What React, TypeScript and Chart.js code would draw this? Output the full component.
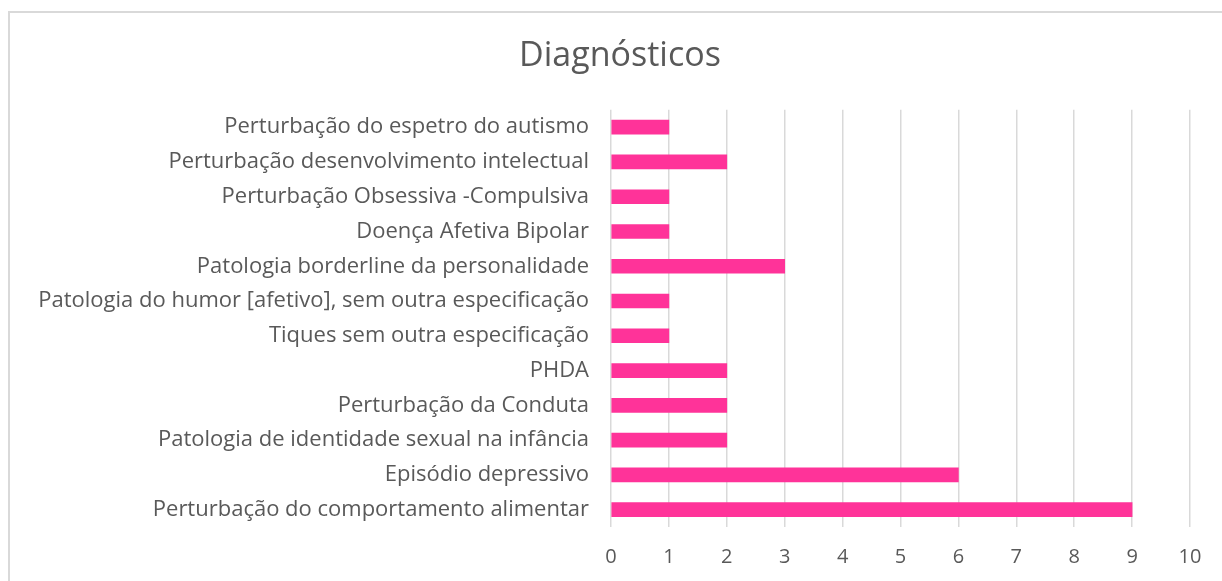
import React, { useEffect, useRef } from "react";
import { Chart, registerables } from "chart.js";

Chart.register(...registerables);

const categories = [
  "Perturbação do espetro do autismo",
  "Perturbação desenvolvimento intelectual",
  "Perturbação Obsessiva -Compulsiva",
  "Doença Afetiva Bipolar",
  "Patologia borderline da personalidade",
  "Patologia do humor [afetivo], sem outra especificação",
  "Tiques sem outra especificação",
  "PHDA",
  "Perturbação da Conduta",
  "Patologia de identidade sexual na infância",
  "Episódio depressivo",
  "Perturbação do comportamento alimentar",
];
const values = [1, 2, 1, 1, 3, 1, 1, 2, 2, 2, 6, 9];
const xMin = 0;
const xMax = 10;
const titleText = "Diagnósticos";

const FONT = "'Open Sans', 'Noto Sans', sans-serif";
const TEXT = "#595959";

export default function App() {
  const ref = useRef<HTMLCanvasElement | null>(null);
  useEffect(() => {
    if (!ref.current) return;
    const padLeft = 18;
    const chart = new Chart(ref.current, {
      type: "bar",
      data: {
        labels: categories,
        datasets: [
          {
            data: values,
            backgroundColor: "#FF3399",
            borderWidth: 0,
            barThickness: 14,
          },
        ],
      },
      options: {
        indexAxis: "y",
        responsive: false,
        animation: false,
        maintainAspectRatio: false,
        layout: { padding: { left: padLeft, right: 0, top: 0, bottom: 0 } },
        plugins: {
          legend: { display: false },
          tooltip: { enabled: false },
          title: {
            display: true,
            text: titleText,
            color: TEXT,
            font: { family: FONT, size: 34, weight: "normal" },
            padding: { top: 36, bottom: 33 },
          },
        },
        scales: {
          x: {
            min: xMin,
            max: xMax,
            ticks: {
              stepSize: 1,
              color: TEXT,
              padding: 18,
              font: { family: FONT, size: 20 },
            },
            grid: { color: "#d9d9d9", lineWidth: 1.5, drawTicks: false },
            border: { display: false },
            afterFit: (s: any) => {
              s.height = 54;
            },
          },
          y: {
            ticks: {
              color: TEXT,
              padding: 22,
              font: { family: FONT, size: 22 },
            },
            grid: { display: false, drawTicks: false },
            border: { display: false },
            afterFit: (s: any) => {
              s.width = 611 - padLeft;
            },
          },
          ySpacer: {
            type: "linear",
            position: "right",
            display: true,
            ticks: { display: false },
            grid: { display: false, drawTicks: false },
            border: { display: false },
            afterFit: (s: any) => {
              s.width = 32;
            },
          },
        },
      },
    });
    return () => chart.destroy();
  }, []);
  return (
    <>
      <div
        style={{
          position: "fixed",
          left: 8,
          top: 11,
          width: 1216,
          height: 620,
          border: "2px solid #d9d9d9",
          boxSizing: "border-box",
        }}
      />
      <canvas
        ref={ref}
        width={1222}
        height={581}
        style={{ position: "fixed", left: 0, top: 0, width: 1222, height: 581 }}
      />
    </>
  );
}
